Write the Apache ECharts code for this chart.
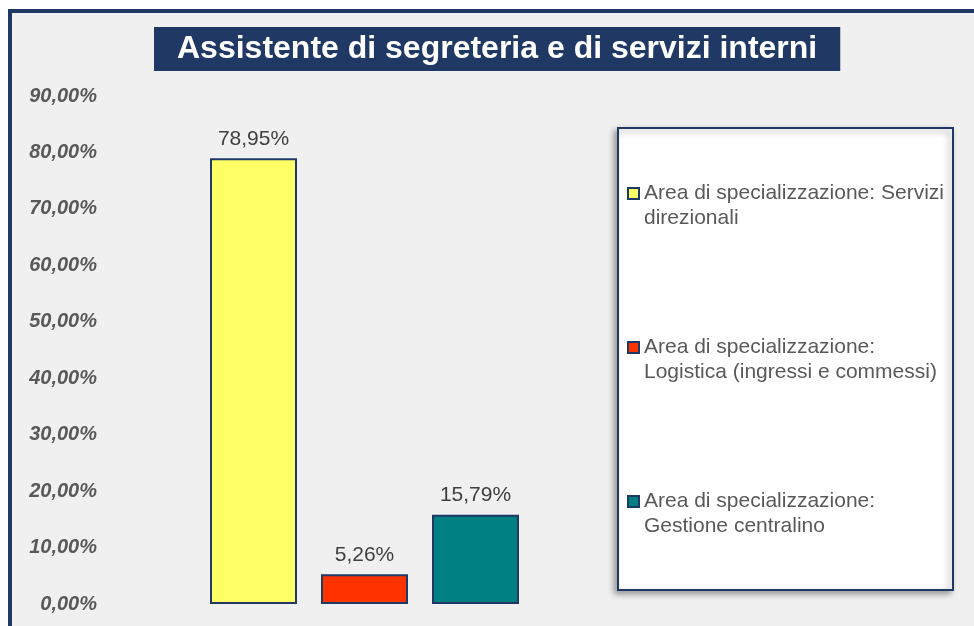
<!DOCTYPE html>
<html>
<head>
<meta charset="utf-8">
<script src="https://cdn.jsdelivr.net/npm/echarts@6/dist/echarts.min.js"></script>
<style>
  html, body { margin: 0; padding: 0; background: #fff; }
  #chart { width: 974px; height: 626px; }
</style>
</head>
<body>
<div id="chart"></div>
<script>
// dati
var categories = [
  "Area di specializzazione: Servizi direzionali",
  "Area di specializzazione: Logistica (ingressi e commessi)",
  "Area di specializzazione: Gestione centralino"
];
var legendLines = [
  ["Area di specializzazione: Servizi", "direzionali"],
  ["Area di specializzazione:", "Logistica (ingressi e commessi)"],
  ["Area di specializzazione:", "Gestione centralino"]
];
var values = [78.95, 5.26, 15.79];
var colors = ["#FFFF66", "#FF3300", "#008080"];
var yTicks = { min: 0, max: 90, interval: 10 };

var navy = "#1F3864";
var font = "'Liberation Sans', Arial, sans-serif";

function pct(v) {
  return v.toFixed(2).replace(".", ",") + "%";
}

var series = categories.map(function (name, i) {
  var data = categories.map(function (c, j) { return j === i ? values[i] : "-"; });
  return {
    name: name,
    type: "bar",
    stack: "tot",
    barWidth: 87,
    data: data,
    itemStyle: { color: colors[i], borderColor: navy, borderWidth: 2 },
    label: {
      show: true,
      position: "top",
      distance: 9,
      fontFamily: font,
      fontSize: 21,
      color: "#404040",
      formatter: function (p) { return pct(p.value); }
    }
  };
});

var myChart = echarts.init(document.getElementById("chart"));
var option = {
  backgroundColor: "#ffffff",
  animation: false,
  graphic: [
    {
      type: "rect",
      z: -10,
      shape: { x: 10, y: 11, width: 1000, height: 700 },
      style: { fill: "#F0F0F0", stroke: navy, lineWidth: 4 }
    },
    {
      type: "rect",
      z: -5,
      shape: { x: 618, y: 128, width: 335, height: 462 },
      style: {
        fill: "#ffffff", stroke: navy, lineWidth: 2,
        shadowBlur: 6, shadowOffsetX: -3, shadowOffsetY: 3, shadowColor: "rgba(0,0,0,0.35)"
      }
    }
  ],
  title: {
    text: "Assistente di segreteria e di servizi interni",
    left: 154,
    top: 27,
    backgroundColor: navy,
    padding: [6, 23, 6, 23],
    textStyle: { color: "#ffffff", fontFamily: font, fontSize: 32, fontWeight: "bold" }
  },
  legend: {
    orient: "vertical",
    left: 627,
    top: 156,
    padding: 0,
    itemWidth: 11,
    itemHeight: 11,
    itemGap: 79,
    icon: "rect",
    itemStyle: { borderColor: navy, borderWidth: 2 },
    data: categories,
    formatter: function (name) {
      // riga vuota in testa: la prima riga resta allineata all'icona
      return "\n" + legendLines[categories.indexOf(name)].join("\n");
    },
    textStyle: {
      fontFamily: font,
      fontSize: 21,
      lineHeight: 25,
      color: "#595959"
    }
  },
  grid: { left: 198, width: 333, top: 96, bottom: 22 },
  xAxis: {
    type: "category",
    data: categories,
    axisLine: { show: false },
    axisTick: { show: false },
    axisLabel: { show: false }
  },
  yAxis: {
    type: "value",
    min: yTicks.min,
    max: yTicks.max,
    interval: yTicks.interval,
    splitLine: { show: false },
    axisLine: { show: false },
    axisTick: { show: false },
    axisLabel: {
      margin: 101,
      fontFamily: font,
      fontSize: 20,
      fontWeight: "bold",
      fontStyle: "italic",
      color: "#595959",
      formatter: function (v) { return pct(v); }
    }
  },
  series: series
};
myChart.setOption(option);
</script>
</body>
</html>
